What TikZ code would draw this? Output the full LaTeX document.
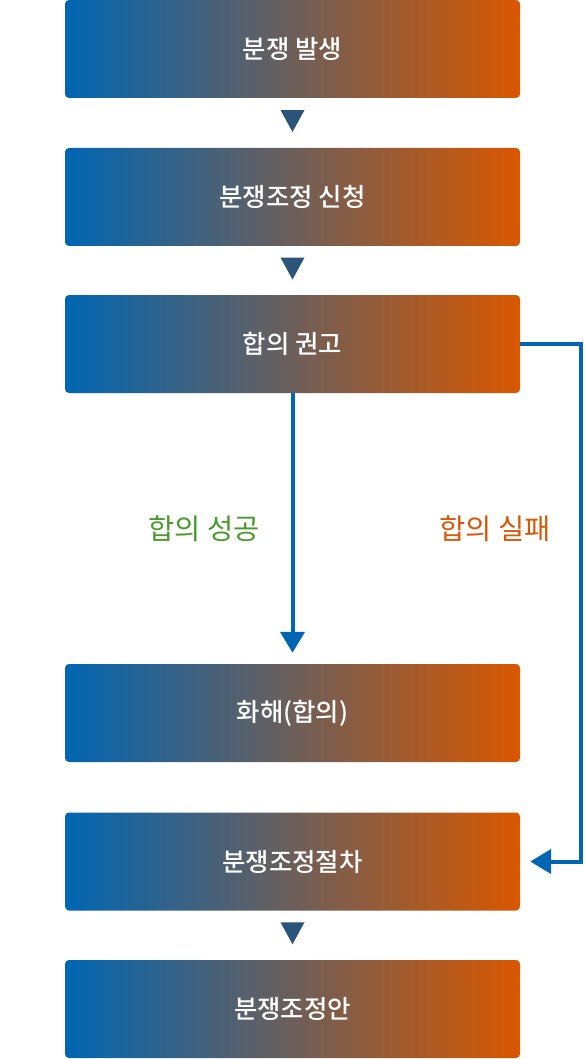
\documentclass[tikz,border=0pt]{standalone}
\usepackage{fontspec}
\newfontfamily\cjk{Noto Sans CJK KR}
\newfontfamily\cjkmed{Noto Sans CJK KR Medium}
\usetikzlibrary{arrows.meta,calc}
\definecolor{boxblue}{HTML}{0066B3}
\definecolor{boxorange}{HTML}{D95700}
\definecolor{tridark}{HTML}{2A5579}
\definecolor{okgreen}{HTML}{4B9A2C}
\definecolor{failorange}{HTML}{D8580A}
\tikzset{
  stepbox/.style={rounded corners=4pt, left color=boxblue, right color=boxorange,
    minimum width=455pt, minimum height=98pt, inner sep=0pt,
    text=white, font=\cjkmed\fontsize{25.4}{30}\selectfont},
  flowline/.style={draw=boxblue, line width=4pt,
    -{Triangle[width=24pt,length=21pt]}},
  tri/.style={fill=tridark},
  branchlabel/.style={font=\cjk\fontsize{28.5}{34}\selectfont}
}
\newcommand{\downtri}[1]{\fill[tri] ($(#1)+(-12pt,11pt)$) -- ++(24pt,0) -- ++(-12pt,-22pt) -- cycle;}

\begin{document}
\begin{tikzpicture}[x=1pt,y=-1pt]
  \useasboundingbox (0,0) rectangle (585,1059);
  \node[stepbox] (occur) at (292.5,49) {분쟁 발생};
  \node[stepbox] (apply) at (292.5,197) {분쟁조정 신청};
  \node[stepbox] (advise) at (292.5,344) {합의 권고};
  \node[stepbox] (settle) at (292.5,713) {화해(합의)};
  \node[stepbox] (proc) at (292.5,861.5) {분쟁조정절차};
  \node[stepbox] (plan) at (292.5,1009) {분쟁조정안};
  % arrows between steps
  \downtri{$(occur.south)!0.46!(apply.north)$}
  \downtri{$(apply.south)!0.46!(advise.north)$}
  \downtri{$(proc.south)!0.46!(plan.north)$}
  % branches
  \draw[flowline, shorten >=11pt] (advise.south) -- (settle.north);
  \draw[flowline] (advise.east) -- ++(61,0) |- ($(proc.east)+(10,0)$);
  \node[branchlabel, text=okgreen] (ok) at (204,529) {합의 성공};
  \node[branchlabel, text=failorange] (fail) at (495,529) {합의 실패};
\end{tikzpicture}
\end{document}
